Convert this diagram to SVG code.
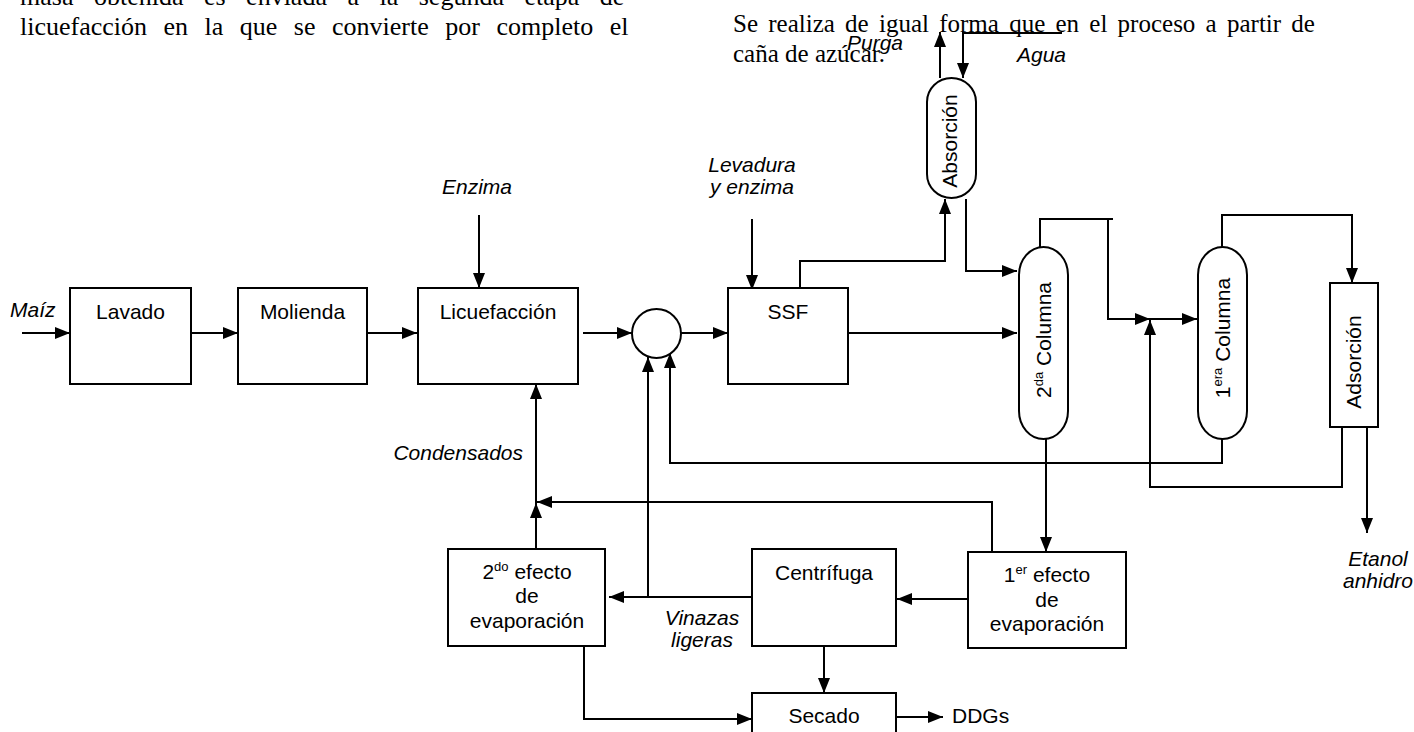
<svg xmlns="http://www.w3.org/2000/svg" width="1414" height="732" viewBox="0 0 1414 732">
<style>
.bg{fill:#fff}
.box{fill:#fff;stroke:#000;stroke-width:2}
.ln{fill:none;stroke:#000;stroke-width:2}
.t{font-family:"Liberation Sans",Arial,sans-serif;font-size:21px;fill:#000}
.c{text-anchor:middle}
.i{font-style:italic}
.doc{font-family:"Liberation Serif","Times New Roman",serif;font-size:26px;fill:#000}
.sup{font-size:13px}
</style>
<defs>
<marker id="ah" markerWidth="16" markerHeight="14" refX="15" refY="7" orient="auto" markerUnits="userSpaceOnUse"><path d="M0,1 L15,7 L0,13 Z" fill="#000"/></marker>
</defs>
<rect class="bg" x="0" y="0" width="1414" height="732"/>
<g id="doc-text">
<text class="doc" x="20" y="5" word-spacing="14">masa obtenida es enviada a la segunda etapa de</text>
<text class="doc" x="20" y="35" word-spacing="10">licuefacción en la que se convierte por completo el</text>
<text class="doc" x="733" y="32" style="font-size:25px" word-spacing="4">Se realiza de igual forma que en el proceso a partir de</text>
<text class="doc" x="733" y="62" style="font-size:25px">caña de azúcar.</text>
</g>
<g id="connectors">
<path class="ln" d="M22,333 H70" marker-end="url(#ah)"/>
<path class="ln" d="M191,333 H238" marker-end="url(#ah)"/>
<path class="ln" d="M367,333 H417" marker-end="url(#ah)"/>
<path class="ln" d="M479,215 V288" marker-end="url(#ah)"/>
<path class="ln" d="M583,333 H632" marker-end="url(#ah)"/>
<path class="ln" d="M681,333 H728" marker-end="url(#ah)"/>
<path class="ln" d="M752,219 V290" marker-end="url(#ah)"/>
<path class="ln" d="M800,288 V261 H945 V199" marker-end="url(#ah)"/>
<path class="ln" d="M848,333 H1017" marker-end="url(#ah)"/>
<path class="ln" d="M966,199 V271 H1017" marker-end="url(#ah)"/>
<path class="ln" d="M940,78 V32" marker-end="url(#ah)"/>
<path class="ln" d="M1062,33 H963 V78" marker-end="url(#ah)"/>
<path class="ln" d="M1040,247 V219 H1113"/>
<path class="ln" d="M1108,219 V319 H1150" marker-end="url(#ah)"/>
<path class="ln" d="M1150,319 H1197" marker-end="url(#ah)"/>
<path class="ln" d="M1222,247 V215 H1352 V283" marker-end="url(#ah)"/>
<path class="ln" d="M1046,439 V552" marker-end="url(#ah)"/>
<path class="ln" d="M1222,439 V463 H670 V353" marker-end="url(#ah)"/>
<path class="ln" d="M1342,427 V487 H1150 V320" marker-end="url(#ah)"/>
<path class="ln" d="M1367,427 V533" marker-end="url(#ah)"/>
<path class="ln" d="M968,599 H897" marker-end="url(#ah)"/>
<path class="ln" d="M992,552 V502 H537" marker-end="url(#ah)"/>
<path class="ln" d="M536,549 V503" marker-end="url(#ah)"/>
<path class="ln" d="M536,503 V384" marker-end="url(#ah)"/>
<path class="ln" d="M752,597 H609" marker-end="url(#ah)"/>
<path class="ln" d="M648,597 V357" marker-end="url(#ah)"/>
<path class="ln" d="M824,646 V693" marker-end="url(#ah)"/>
<path class="ln" d="M584,646 V719 H752" marker-end="url(#ah)"/>
<path class="ln" d="M896,717 H943" marker-end="url(#ah)"/>
</g>
<g id="lavado"><rect class="box" x="70" y="288" width="121" height="96"/><text class="t c" x="130.5" y="319">Lavado</text></g>
<g id="molienda"><rect class="box" x="238" y="288" width="129" height="96"/><text class="t c" x="302.5" y="319">Molienda</text></g>
<g id="licuefaccion"><rect class="box" x="418" y="288" width="160" height="96"/><text class="t c" x="498" y="319">Licuefacción</text></g>
<g id="mezclador"><circle class="box" cx="656.5" cy="333.5" r="24.5"/></g>
<g id="ssf"><rect class="box" x="728" y="288" width="120" height="96"/><text class="t c" x="788" y="319">SSF</text></g>
<g id="absorcion"><rect class="box" x="927" y="78" width="49" height="120" rx="24.5" ry="24"/><text class="t c" transform="translate(949,141) rotate(-90)" y="7.5">Absorción</text></g>
<g id="columna2"><rect class="box" x="1019" y="247" width="49" height="192" rx="24.5" ry="28"/><text class="t c" transform="translate(1043,340) rotate(-90)" y="7.5">2<tspan class="sup" dy="-8">da</tspan><tspan dy="8"> Columna</tspan></text></g>
<g id="columna1"><rect class="box" x="1198" y="247" width="49" height="192" rx="24.5" ry="28"/><text class="t c" transform="translate(1222,338) rotate(-90)" y="7.5">1<tspan class="sup" dy="-8">era</tspan><tspan dy="8"> Columna</tspan></text></g>
<g id="adsorcion"><rect class="box" x="1330" y="283" width="48" height="144"/><text class="t c" transform="translate(1353,362) rotate(-90)" y="7.5">Adsorción</text></g>
<g id="efecto1"><rect class="box" x="968" y="552" width="158" height="96"/><text class="t c" x="1047" y="582">1<tspan class="sup" dy="-8">er</tspan><tspan dy="8"> efecto</tspan></text><text class="t c" x="1047" y="607">de</text><text class="t c" x="1047" y="631">evaporación</text></g>
<g id="centrifuga"><rect class="box" x="752" y="549" width="144" height="97"/><text class="t c" x="824" y="580">Centrífuga</text></g>
<g id="efecto2"><rect class="box" x="448" y="549" width="157" height="97"/><text class="t c" x="527" y="579">2<tspan class="sup" dy="-8">do</tspan><tspan dy="8"> efecto</tspan></text><text class="t c" x="527" y="603">de</text><text class="t c" x="527" y="628">evaporación</text></g>
<g id="secado"><rect class="box" x="752" y="693" width="144" height="60"/><text class="t c" x="824" y="723">Secado</text></g>
<g id="labels">
<text class="t i" x="10" y="317">Maíz</text>
<text class="t i c" x="477" y="194">Enzima</text>
<text class="t i c" x="752" y="172">Levadura</text>
<text class="t i c" x="752" y="194">y enzima</text>
<text class="t i" x="847" y="50">Purga</text>
<text class="t i" x="1017" y="62">Agua</text>
<text class="t i" x="523" y="460" text-anchor="end">Condensados</text>
<text class="t i c" x="702" y="625">Vinazas</text>
<text class="t i c" x="702" y="647">ligeras</text>
<text class="t i c" x="1378" y="566">Etanol</text>
<text class="t i c" x="1378" y="588">anhidro</text>
<text class="t" x="952" y="723">DDGs</text>
</g>
</svg>
